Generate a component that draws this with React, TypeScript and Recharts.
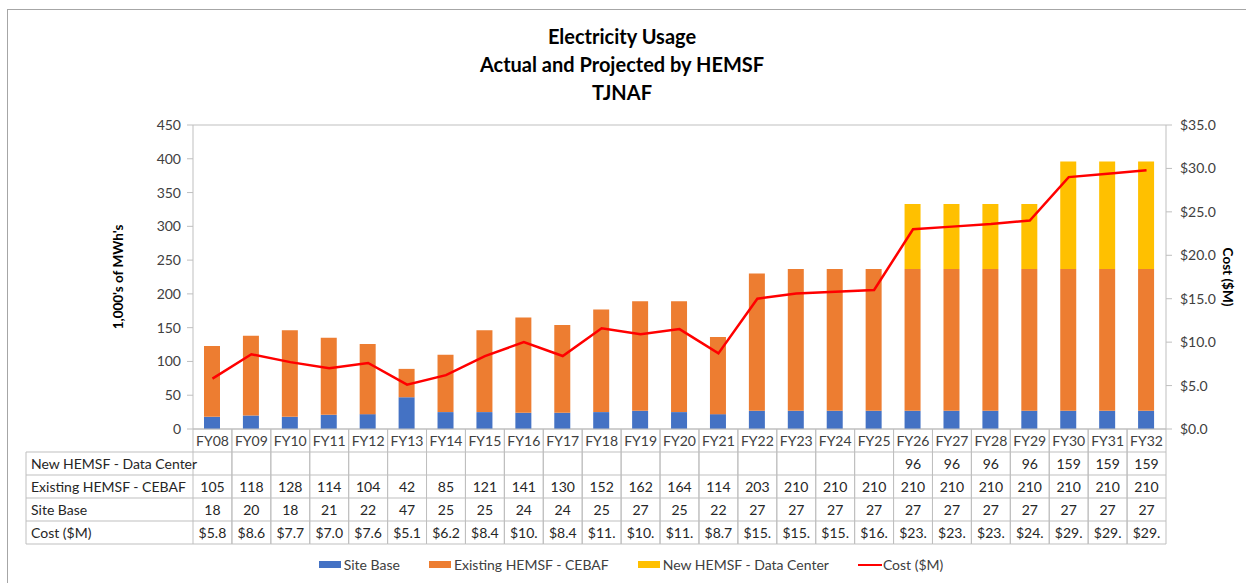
import React from "react";
import { ComposedChart, Bar, Line, XAxis, YAxis, CartesianGrid, Legend } from "recharts";

const years = ["FY08", "FY09", "FY10", "FY11", "FY12", "FY13", "FY14", "FY15", "FY16", "FY17", "FY18", "FY19", "FY20", "FY21", "FY22", "FY23", "FY24", "FY25", "FY26", "FY27", "FY28", "FY29", "FY30", "FY31", "FY32"];
const siteBase = [18, 20, 18, 21, 22, 47, 25, 25, 24, 24, 25, 27, 25, 22, 27, 27, 27, 27, 27, 27, 27, 27, 27, 27, 27];
const cebaf = [105, 118, 128, 114, 104, 42, 85, 121, 141, 130, 152, 162, 164, 114, 203, 210, 210, 210, 210, 210, 210, 210, 210, 210, 210];
const dataCenter: (number | null)[] = [null, null, null, null, null, null, null, null, null, null, null, null, null, null, null, null, null, null, 96, 96, 96, 96, 159, 159, 159];
const cost = [5.8, 8.6, 7.7, 7.0, 7.6, 5.1, 6.2, 8.4, 10.0, 8.4, 11.6, 10.9, 11.5, 8.7, 15.0, 15.6, 15.8, 16.0, 23.0, 23.3, 23.6, 24.0, 29.0, 29.4, 29.8];
const leftTicks = [0, 50, 100, 150, 200, 250, 300, 350, 400, 450];
const rightTicks = [0, 5, 10, 15, 20, 25, 30, 35];

const C_SITE = "#4472C4";
const C_CEBAF = "#ED7D31";
const C_DC = "#FFC000";
const C_COST = "#FF0000";
const FONT = "Lato, 'Open Sans', sans-serif";

const data = years.map((y, i) => ({
  year: y,
  site: siteBase[i],
  cebaf: cebaf[i],
  dc: dataCenter[i],
  cost: cost[i],
}));

const W = 1246;
const H = 583;
const PLOT_L = 193;
const PLOT_R = 1166;
const CELL_W = (PLOT_R - PLOT_L) / years.length;
const ROW_H = 23;
const TABLE_LEFT = 26;
const GRID = "#bfbfbf";

const rowLabels = ["New HEMSF - Data Center", "Existing HEMSF - CEBAF", "Site Base", "Cost ($M)"];

const fmtCost = (v: number) => ("$" + v.toFixed(1)).slice(0, 4);

function TableTick(props: any) {
  const { x, y, payload } = props;
  const i = payload.index;
  const x0 = x - CELL_W / 2;
  const x1 = x + CELL_W / 2;
  const dc = dataCenter[i];
  const vals = [dc == null ? "" : String(dc), String(cebaf[i]), String(siteBase[i]), fmtCost(cost[i])];
  const top = y + ROW_H;
  const bottom = y + ROW_H * 5;
  return (
    <g>
      <line x1={x0} x2={x0} y1={y} y2={bottom} stroke={GRID} />
      <line x1={x1} x2={x1} y1={y} y2={bottom} stroke={GRID} />
      {[1, 2, 3, 4, 5].map((r) => (
        <line key={r} x1={x0} x2={x1} y1={y + ROW_H * r} y2={y + ROW_H * r} stroke={GRID} />
      ))}
      <text x={x} y={y + ROW_H / 2 + 5} textAnchor="middle" fontSize={14} fill="#404040" fontFamily={FONT}>
        {payload.value}
      </text>
      {vals.map((v, r) => (
        <text key={r} x={x} y={top + ROW_H * r + ROW_H / 2 + 5} textAnchor="middle" fontSize={14} fill="#262626" fontFamily={FONT}>
          {v}
        </text>
      ))}
      {i === 0 && (
        <g>
          <line x1={TABLE_LEFT} x2={TABLE_LEFT} y1={top} y2={bottom} stroke={GRID} />
          {[1, 2, 3, 4, 5].map((r) => (
            <line key={r} x1={TABLE_LEFT} x2={x0} y1={y + ROW_H * r} y2={y + ROW_H * r} stroke={GRID} />
          ))}
          {rowLabels.map((l, r) => (
            <text key={l} x={TABLE_LEFT + 5} y={top + ROW_H * r + ROW_H / 2 + 5} fontSize={14} fill="#262626" fontFamily={FONT}>
              {l}
            </text>
          ))}
        </g>
      )}
    </g>
  );
}

function LegendContent() {
  const items = [
    { label: "Site Base", color: C_SITE, type: "rect" },
    { label: "Existing HEMSF - CEBAF", color: C_CEBAF, type: "rect" },
    { label: "New HEMSF - Data Center", color: C_DC, type: "rect" },
    { label: "Cost ($M)", color: C_COST, type: "line" },
  ];
  return (
    <div style={{ display: "flex", justifyContent: "center", gap: 29, fontFamily: FONT, fontSize: 14, color: "#404040", paddingLeft: 16 }}>
      {items.map((it) => (
        <div key={it.label} style={{ display: "flex", alignItems: "center" }}>
          {it.type === "rect" ? (
            <span style={{ display: "inline-block", width: 22, height: 7, background: it.color, marginRight: 3 }} />
          ) : (
            <span style={{ display: "inline-block", width: 24, height: 2, background: it.color, marginRight: 1 }} />
          )}
          <span>{it.label}</span>
        </div>
      ))}
    </div>
  );
}

export default function App() {
  return (
    <div style={{ position: "absolute", left: 0, top: 0, width: W, height: H, background: "#fff", overflow: "hidden" }}>
      <div style={{ position: "absolute", left: 7, top: 9, width: W, height: H, border: "1px solid #a6a6a6" }} />
      <div
        style={{
          position: "absolute",
          left: 0,
          top: 22,
          width: 1244,
          textAlign: "center",
          fontFamily: FONT,
          fontWeight: 700,
          fontSize: 20,
          lineHeight: "28px",
          color: "#000",
        }}
      >
        <div>Electricity Usage</div>
        <div>Actual and Projected by HEMSF</div>
        <div>TJNAF</div>
      </div>
      <div
        style={{
          position: "absolute",
          left: 118 - 100,
          top: 277 - 10,
          width: 200,
          height: 20,
          lineHeight: "20px",
          textAlign: "center",
          transform: "rotate(-90deg)",
          fontFamily: FONT,
          fontWeight: 700,
          fontSize: 13.5,
          color: "#000",
        }}
      >
        1,000's of MWh's
      </div>
      <div
        style={{
          position: "absolute",
          left: 1228 - 100,
          top: 277 - 10,
          width: 200,
          height: 20,
          lineHeight: "20px",
          textAlign: "center",
          transform: "rotate(90deg)",
          fontFamily: FONT,
          fontWeight: 700,
          fontSize: 13.5,
          color: "#000",
        }}
      >
        Cost ($M)
      </div>
      <div style={{ position: "absolute", left: 0, top: 0 }}>
        <ComposedChart width={W} height={H} data={data} margin={{ top: 125, right: 20, left: 143, bottom: 39 }}>
          <CartesianGrid vertical={false} stroke={GRID} strokeDasharray="" />
          <XAxis
            dataKey="year"
            interval={0}
            height={115}
            tickSize={0}
            tickMargin={0}
            tickLine={false}
            axisLine={{ stroke: GRID }}
            tick={<TableTick />}
          />
          <YAxis
            yAxisId="left"
            domain={[0, 450]}
            ticks={leftTicks}
            width={50}
            tickSize={6}
            tickMargin={6}
            axisLine={{ stroke: GRID }}
            tickLine={{ stroke: GRID }}
            tick={{ fontSize: 14, fill: "#404040", fontFamily: FONT }}
          />
          <YAxis
            yAxisId="right"
            orientation="right"
            domain={[0, 35]}
            ticks={rightTicks}
            width={60}
            tickSize={6}
            tickMargin={8}
            axisLine={{ stroke: GRID }}
            tickLine={{ stroke: GRID }}
            tickFormatter={(v: number) => "$" + v.toFixed(1)}
            tick={{ fontSize: 14, fill: "#404040", fontFamily: FONT }}
          />
          <Bar yAxisId="left" dataKey="site" stackId="a" fill={C_SITE} barSize={16} name="Site Base" isAnimationActive={false} />
          <Bar yAxisId="left" dataKey="cebaf" stackId="a" fill={C_CEBAF} barSize={16} name="Existing HEMSF - CEBAF" isAnimationActive={false} />
          <Bar yAxisId="left" dataKey="dc" stackId="a" fill={C_DC} barSize={16} name="New HEMSF - Data Center" isAnimationActive={false} />
          <Line
            yAxisId="right"
            dataKey="cost"
            type="linear"
            stroke={C_COST}
            strokeWidth={2.5}
            dot={false}
            activeDot={false}
            name="Cost ($M)"
            isAnimationActive={false}
          />
          <Legend
            layout="horizontal"
            verticalAlign="middle"
            align="center"
            content={<LegendContent />}
            wrapperStyle={{ top: 556, left: 0, width: W, bottom: "auto" }}
          />
        </ComposedChart>
      </div>
    </div>
  );
}
